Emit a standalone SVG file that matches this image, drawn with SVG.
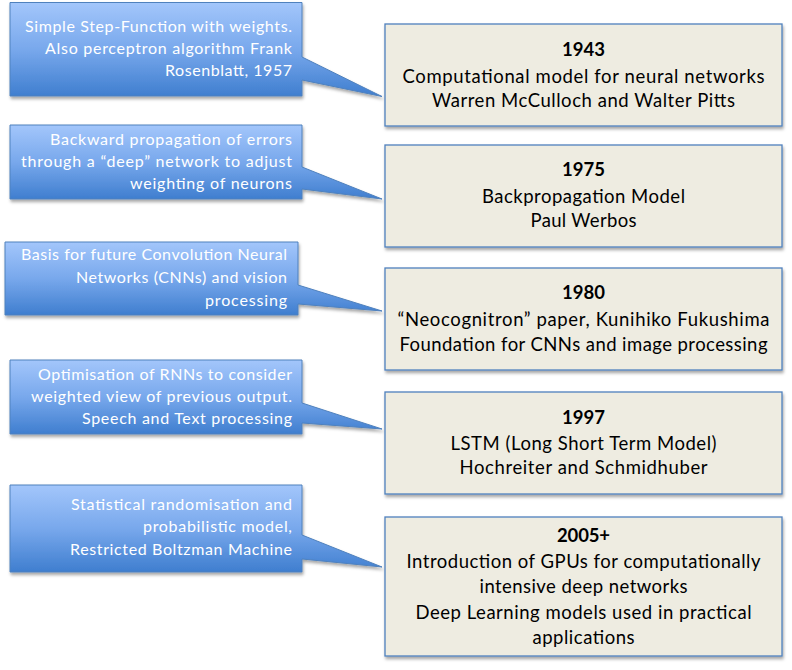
<svg xmlns="http://www.w3.org/2000/svg" width="792" height="670" viewBox="0 0 792 670">
<defs>
<linearGradient id="blueGrad" x1="0" y1="0" x2="0" y2="1">
<stop offset="0" stop-color="#A3C6FB"/>
<stop offset="0.5" stop-color="#78A8EC"/>
<stop offset="1" stop-color="#3F7ECF"/>
</linearGradient>
<filter id="shadow" x="-5%" y="-10%" width="115%" height="130%">
<feDropShadow dx="1" dy="2.5" stdDeviation="1.5" flood-color="#000" flood-opacity="0.35"/>
</filter>
<style>
.callout{fill:url(#blueGrad);stroke:#4F81BD;stroke-width:1;filter:url(#shadow)}
.box{fill:#EEECE1;stroke:#4F81BD;stroke-width:1.3;filter:url(#shadow)}
.ct{font-family:Lato,"Liberation Sans",sans-serif;font-size:16px;fill:#FFFFFF;text-anchor:end}
.bt{font-family:Lato,"Liberation Sans",sans-serif;font-size:18.5px;fill:#000000;text-anchor:middle}
.yr{font-weight:bold}
</style>
</defs>
<rect width="792" height="670" fill="#FFFFFF"/>

<g id="callout1">
<path class="callout" d="M10,2.5 H302 V57 L382,96.5 L302,80 V96 H10 Z"/>
<text class="ct" x="292" y="32" textLength="267" lengthAdjust="spacing">Simple Step-Function with weights.</text>
<text class="ct" x="292" y="54" textLength="247" lengthAdjust="spacing">Also perceptron algorithm Frank</text>
<text class="ct" x="292" y="76" textLength="127" lengthAdjust="spacing">Rosenblatt, 1957</text>
</g>

<g id="callout2">
<path class="callout" d="M10,125 H302 V167 L382,199 L302,189 V199 H10 Z"/>
<text class="ct" x="292" y="145" textLength="242" lengthAdjust="spacing">Backward propagation of errors</text>
<text class="ct" x="292" y="167" textLength="271" lengthAdjust="spacing">through a “deep” network to adjust</text>
<text class="ct" x="292" y="189" textLength="162" lengthAdjust="spacing">weighting of neurons</text>
</g>

<g id="callout3">
<path class="callout" d="M5,242 H298 V285 L382,311 L298,304 V315 H5 Z"/>
<text class="ct" x="287" y="260" textLength="266" lengthAdjust="spacing">Basis for future Convolution Neural</text>
<text class="ct" x="287" y="283" textLength="211" lengthAdjust="spacing">Networks (CNNs) and vision</text>
<text class="ct" x="287" y="306" textLength="82" lengthAdjust="spacing">processing</text>
</g>

<g id="callout4">
<path class="callout" d="M10,360 H302 V403 L382,429 L302,423 V434 H10 Z"/>
<text class="ct" x="292" y="380" textLength="254" lengthAdjust="spacing">Optimisation of RNNs to consider</text>
<text class="ct" x="292" y="402" textLength="261" lengthAdjust="spacing">weighted view of previous output.</text>
<text class="ct" x="292" y="424" textLength="210" lengthAdjust="spacing">Speech and Text processing</text>
</g>

<g id="callout5">
<path class="callout" d="M10,485 H302 V535 L382,567 L302,559 V572 H10 Z"/>
<text class="ct" x="292" y="510" textLength="221" lengthAdjust="spacing">Statistical randomisation and</text>
<text class="ct" x="292" y="532" textLength="149" lengthAdjust="spacing">probabilistic model,</text>
<text class="ct" x="292" y="555" textLength="222" lengthAdjust="spacing">Restricted Boltzman Machine</text>
</g>

<g id="box1943">
<rect class="box" x="385" y="24" width="397" height="102"/>
<text class="bt yr" x="583.5" y="56" textLength="43" lengthAdjust="spacing">1943</text>
<text class="bt" x="583.5" y="83" textLength="362" lengthAdjust="spacing">Computational model for neural networks</text>
<text class="bt" x="583.5" y="107" textLength="303" lengthAdjust="spacing">Warren McCulloch and Walter Pitts</text>
</g>

<g id="box1975">
<rect class="box" x="385" y="145" width="397" height="102"/>
<text class="bt yr" x="583.5" y="176" textLength="43" lengthAdjust="spacing">1975</text>
<text class="bt" x="583.5" y="203" textLength="203" lengthAdjust="spacing">Backpropagation Model</text>
<text class="bt" x="583.5" y="227" textLength="106" lengthAdjust="spacing">Paul Werbos</text>
</g>

<g id="box1980">
<rect class="box" x="385" y="268" width="397" height="102"/>
<text class="bt yr" x="583.5" y="299" textLength="43" lengthAdjust="spacing">1980</text>
<text class="bt" x="583.5" y="326" textLength="372" lengthAdjust="spacing">“Neocognitron” paper, Kunihiko Fukushima</text>
<text class="bt" x="583.5" y="351" textLength="368" lengthAdjust="spacing">Foundation for CNNs and image processing</text>
</g>

<g id="box1997">
<rect class="box" x="385" y="392" width="397" height="102"/>
<text class="bt yr" x="583.5" y="424" textLength="43" lengthAdjust="spacing">1997</text>
<text class="bt" x="583.5" y="450" textLength="266" lengthAdjust="spacing">LSTM (Long Short Term Model)</text>
<text class="bt" x="583.5" y="474" textLength="248" lengthAdjust="spacing">Hochreiter and Schmidhuber</text>
</g>

<g id="box2005">
<rect class="box" x="385" y="517" width="397" height="139"/>
<text class="bt yr" x="583.5" y="542" textLength="53" lengthAdjust="spacing">2005+</text>
<text class="bt" x="583.5" y="568" textLength="354" lengthAdjust="spacing">Introduction of GPUs for computationally</text>
<text class="bt" x="583.5" y="593" textLength="208" lengthAdjust="spacing">intensive deep networks</text>
<text class="bt" x="583.5" y="619" textLength="336" lengthAdjust="spacing">Deep Learning models used in practical</text>
<text class="bt" x="583.5" y="644" textLength="102" lengthAdjust="spacing">applications</text>
</g>
</svg>
